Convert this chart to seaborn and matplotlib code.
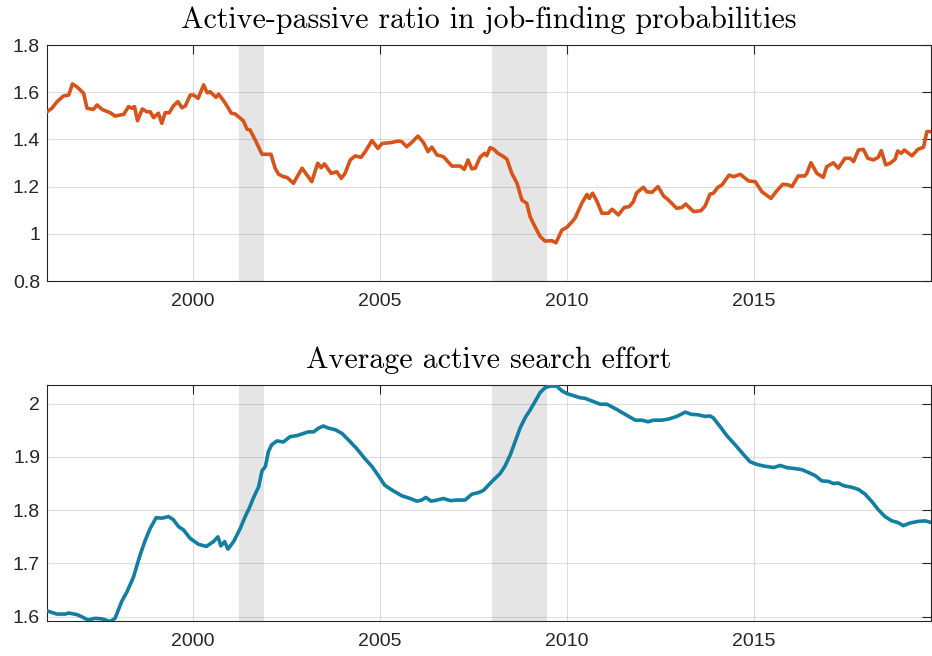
import numpy as np
import pandas as pd
import matplotlib
matplotlib.use("Agg")
import matplotlib.pyplot as plt
import seaborn as sns
from matplotlib.ticker import FixedLocator, FixedFormatter

# ---------------- data ----------------
ratio_year = [1996.09, 1996.22, 1996.36, 1996.53, 1996.67, 1996.77, 1996.89, 1997.07, 1997.16, 1997.33,
              1997.43, 1997.56, 1997.78, 1997.91, 1998.14, 1998.27, 1998.36, 1998.43, 1998.51, 1998.64,
              1998.76, 1998.85, 1998.94, 1999.07, 1999.16, 1999.25, 1999.36, 1999.47, 1999.59, 1999.70,
              1999.79, 1999.92, 2000.01, 2000.13, 2000.28, 2000.37, 2000.45, 2000.61, 2000.68, 2000.86,
              2001.02, 2001.12, 2001.34, 2001.44, 2001.52, 2001.66, 2001.84, 2002.08, 2002.19, 2002.28,
              2002.41, 2002.51, 2002.68, 2002.91, 2003.17, 2003.33, 2003.42, 2003.51, 2003.69, 2003.84,
              2003.96, 2004.06, 2004.20, 2004.33, 2004.49, 2004.60, 2004.78, 2004.94, 2005.05, 2005.27,
              2005.49, 2005.58, 2005.71, 2005.85, 2006.01, 2006.16, 2006.28, 2006.38, 2006.52, 2006.69,
              2006.92, 2007.14, 2007.25, 2007.35, 2007.45, 2007.54, 2007.67, 2007.79, 2007.85, 2007.94,
              2008.03, 2008.15, 2008.30, 2008.39, 2008.52, 2008.66, 2008.79, 2008.92, 2009.01, 2009.14,
              2009.28, 2009.41, 2009.59, 2009.70, 2009.86, 2009.99, 2010.13, 2010.21, 2010.39, 2010.53,
              2010.59, 2010.68, 2010.79, 2010.93, 2011.10, 2011.20, 2011.37, 2011.53, 2011.66, 2011.77,
              2011.86, 2012.04, 2012.13, 2012.27, 2012.43, 2012.58, 2012.69, 2012.93, 2013.07, 2013.17,
              2013.38, 2013.58, 2013.69, 2013.82, 2013.91, 2014.03, 2014.14, 2014.33, 2014.45, 2014.63,
              2014.85, 2015.03, 2015.21, 2015.45, 2015.61, 2015.77, 2015.92, 2016.01, 2016.18, 2016.35,
              2016.41, 2016.52, 2016.68, 2016.85, 2016.94, 2017.12, 2017.25, 2017.43, 2017.57, 2017.66,
              2017.79, 2017.92, 2018.04, 2018.19, 2018.32, 2018.40, 2018.52, 2018.64, 2018.77, 2018.84,
              2018.93, 2019.02, 2019.22, 2019.38, 2019.53, 2019.62, 2019.75]
ratio_value = [1.517, 1.532, 1.560, 1.584, 1.588, 1.635, 1.623, 1.595, 1.532, 1.527,
               1.546, 1.527, 1.513, 1.499, 1.506, 1.539, 1.532, 1.539, 1.479, 1.529,
               1.517, 1.517, 1.492, 1.511, 1.468, 1.513, 1.513, 1.542, 1.560, 1.534,
               1.542, 1.588, 1.588, 1.574, 1.631, 1.598, 1.602, 1.578, 1.592, 1.553,
               1.511, 1.508, 1.479, 1.443, 1.440, 1.397, 1.337, 1.337, 1.278, 1.253,
               1.242, 1.239, 1.214, 1.278, 1.221, 1.299, 1.280, 1.296, 1.256, 1.263,
               1.235, 1.256, 1.313, 1.330, 1.324, 1.348, 1.395, 1.362, 1.383, 1.386,
               1.393, 1.390, 1.369, 1.388, 1.414, 1.386, 1.348, 1.367, 1.334, 1.327,
               1.287, 1.287, 1.273, 1.313, 1.275, 1.278, 1.324, 1.341, 1.331, 1.365,
               1.359, 1.341, 1.327, 1.316, 1.256, 1.214, 1.143, 1.129, 1.072, 1.030,
               0.988, 0.969, 0.971, 0.962, 1.016, 1.027, 1.051, 1.066, 1.129, 1.167,
               1.150, 1.172, 1.140, 1.087, 1.087, 1.104, 1.080, 1.112, 1.115, 1.136,
               1.174, 1.197, 1.178, 1.176, 1.200, 1.160, 1.146, 1.108, 1.112, 1.126,
               1.094, 1.098, 1.118, 1.168, 1.172, 1.197, 1.207, 1.249, 1.242, 1.252,
               1.224, 1.221, 1.178, 1.150, 1.183, 1.210, 1.207, 1.200, 1.245, 1.245,
               1.256, 1.301, 1.256, 1.239, 1.284, 1.301, 1.278, 1.320, 1.320, 1.306,
               1.355, 1.358, 1.320, 1.313, 1.324, 1.352, 1.292, 1.299, 1.316, 1.351,
               1.341, 1.355, 1.330, 1.358, 1.367, 1.433, 1.433]

effort_year = [1996.09, 1996.22, 1996.36, 1996.58, 1996.67, 1996.89, 1997.02, 1997.18, 1997.38, 1997.56,
               1997.78, 1997.91, 1998.09, 1998.23, 1998.40, 1998.58, 1998.72, 1998.85, 1999.01, 1999.16,
               1999.34, 1999.47, 1999.61, 1999.74, 1999.92, 2000.14, 2000.35, 2000.54, 2000.66, 2000.74,
               2000.84, 2000.93, 2001.08, 2001.26, 2001.39, 2001.50, 2001.61, 2001.75, 2001.84, 2001.93,
               2002.01, 2002.10, 2002.24, 2002.41, 2002.59, 2002.77, 2002.95, 2003.08, 2003.22, 2003.35,
               2003.48, 2003.62, 2003.80, 2003.98, 2004.15, 2004.38, 2004.60, 2004.78, 2004.95, 2005.12,
               2005.31, 2005.58, 2005.80, 2005.98, 2006.11, 2006.22, 2006.36, 2006.52, 2006.69, 2006.87,
               2007.05, 2007.27, 2007.45, 2007.63, 2007.76, 2007.99, 2008.21, 2008.34, 2008.48, 2008.61,
               2008.74, 2008.88, 2009.01, 2009.14, 2009.28, 2009.41, 2009.55, 2009.72, 2009.86, 2009.99,
               2010.17, 2010.35, 2010.48, 2010.66, 2010.88, 2011.06, 2011.28, 2011.55, 2011.82, 2012.00,
               2012.16, 2012.31, 2012.53, 2012.71, 2012.93, 2013.16, 2013.32, 2013.51, 2013.69, 2013.82,
               2013.91, 2014.09, 2014.27, 2014.49, 2014.71, 2014.89, 2015.07, 2015.25, 2015.52, 2015.70,
               2015.87, 2016.10, 2016.28, 2016.45, 2016.63, 2016.81, 2016.99, 2017.12, 2017.25, 2017.39,
               2017.61, 2017.79, 2017.97, 2018.15, 2018.32, 2018.50, 2018.68, 2018.84, 2018.99, 2019.17,
               2019.39, 2019.57, 2019.73]
effort_value = [1.611, 1.608, 1.605, 1.605, 1.607, 1.604, 1.600, 1.594, 1.597, 1.596,
                1.591, 1.597, 1.629, 1.647, 1.674, 1.716, 1.744, 1.766, 1.786, 1.785,
                1.788, 1.782, 1.769, 1.763, 1.747, 1.736, 1.732, 1.741, 1.750, 1.733,
                1.741, 1.727, 1.741, 1.766, 1.788, 1.804, 1.823, 1.844, 1.874, 1.882,
                1.910, 1.923, 1.930, 1.928, 1.938, 1.940, 1.944, 1.947, 1.947, 1.954,
                1.958, 1.954, 1.951, 1.944, 1.932, 1.915, 1.896, 1.882, 1.865, 1.847,
                1.838, 1.827, 1.822, 1.817, 1.819, 1.824, 1.817, 1.819, 1.822, 1.818,
                1.819, 1.819, 1.830, 1.833, 1.837, 1.854, 1.869, 1.883, 1.904, 1.929,
                1.954, 1.974, 1.988, 2.004, 2.021, 2.030, 2.033, 2.033, 2.024, 2.019,
                2.015, 2.011, 2.010, 2.005, 1.999, 1.999, 1.991, 1.980, 1.969, 1.969,
                1.966, 1.969, 1.969, 1.971, 1.976, 1.984, 1.980, 1.979, 1.976, 1.977,
                1.973, 1.957, 1.940, 1.923, 1.905, 1.891, 1.886, 1.883, 1.880, 1.884,
                1.880, 1.878, 1.876, 1.871, 1.865, 1.855, 1.854, 1.850, 1.851, 1.846,
                1.843, 1.839, 1.830, 1.816, 1.801, 1.788, 1.780, 1.777, 1.771, 1.776,
                1.779, 1.780, 1.777]

recession_start = [2001.22, 2007.98]
recession_end = [2001.88, 2009.47]

title_top = "Active-passive ratio in job-finding probabilities"
title_bottom = "Average active search effort"

x_ticks = [2000, 2005, 2010, 2015]
x_ticklabels = ["2000", "2005", "2010", "2015"]
top_yticks = [0.8, 1.0, 1.2, 1.4, 1.6, 1.8]
top_yticklabels = ["0.8", "1", "1.2", "1.4", "1.6", "1.8"]
bot_yticks = [1.6, 1.7, 1.8, 1.9, 2.0]
bot_yticklabels = ["1.6", "1.7", "1.8", "1.9", "2"]

# ---------------- style ----------------
sns.set_theme(style="white")
plt.rcParams["font.family"] = ["Liberation Sans", "DejaVu Sans"]

ORANGE = "#D95319"
BLUE = "#127EA2"
DARK = "#262626"

fig = plt.figure(figsize=(9.32, 6.56), dpi=100)
ax1 = fig.add_axes([47 / 932, 1 - 281 / 656, 884 / 932, 236 / 656])
ax2 = fig.add_axes([47 / 932, 1 - 621 / 656, 884 / 932, 236 / 656])

df_ratio = pd.DataFrame({"year": ratio_year, "value": ratio_value})
df_effort = pd.DataFrame({"year": effort_year, "value": effort_value})


def style_axis(ax, yticks, yticklabels, ylim, title):
    for s, e in zip(recession_start, recession_end):
        ax.axvspan(s, e, color="#E5E5E5", lw=0, zorder=0.5)
    ax.set_xlim(1996.09, 2019.73)
    ax.set_ylim(*ylim)
    ax.xaxis.set_major_locator(FixedLocator(x_ticks))
    ax.xaxis.set_major_formatter(FixedFormatter(x_ticklabels))
    ax.yaxis.set_major_locator(FixedLocator(yticks))
    ax.yaxis.set_major_formatter(FixedFormatter(yticklabels))
    ax.grid(True, color=DARK, alpha=0.15, lw=0.8, zorder=1)
    ax.set_axisbelow(False)
    ax.tick_params(direction="in", top=True, right=True, length=6.5, width=0.8,
                   color=DARK, labelcolor=DARK, labelsize=14, pad=5)
    ax.tick_params(axis="x", pad=9)
    for sp in ax.spines.values():
        sp.set_color(DARK)
        sp.set_linewidth(0.8)
        sp.set_visible(True)
    ax.set_xlabel("")
    ax.set_ylabel("")
    ax.set_title(title, family="cmr10", fontsize=21.5, color="black", pad=12)


sns.lineplot(data=df_ratio, x="year", y="value", ax=ax1, color=ORANGE, lw=2.6, zorder=3)
style_axis(ax1, top_yticks, top_yticklabels, (0.8, 1.8), title_top)

sns.lineplot(data=df_effort, x="year", y="value", ax=ax2, color=BLUE, lw=2.6, zorder=3)
style_axis(ax2, bot_yticks, bot_yticklabels, (1.592, 2.035), title_bottom)

fig.savefig("out.png", dpi=100)
